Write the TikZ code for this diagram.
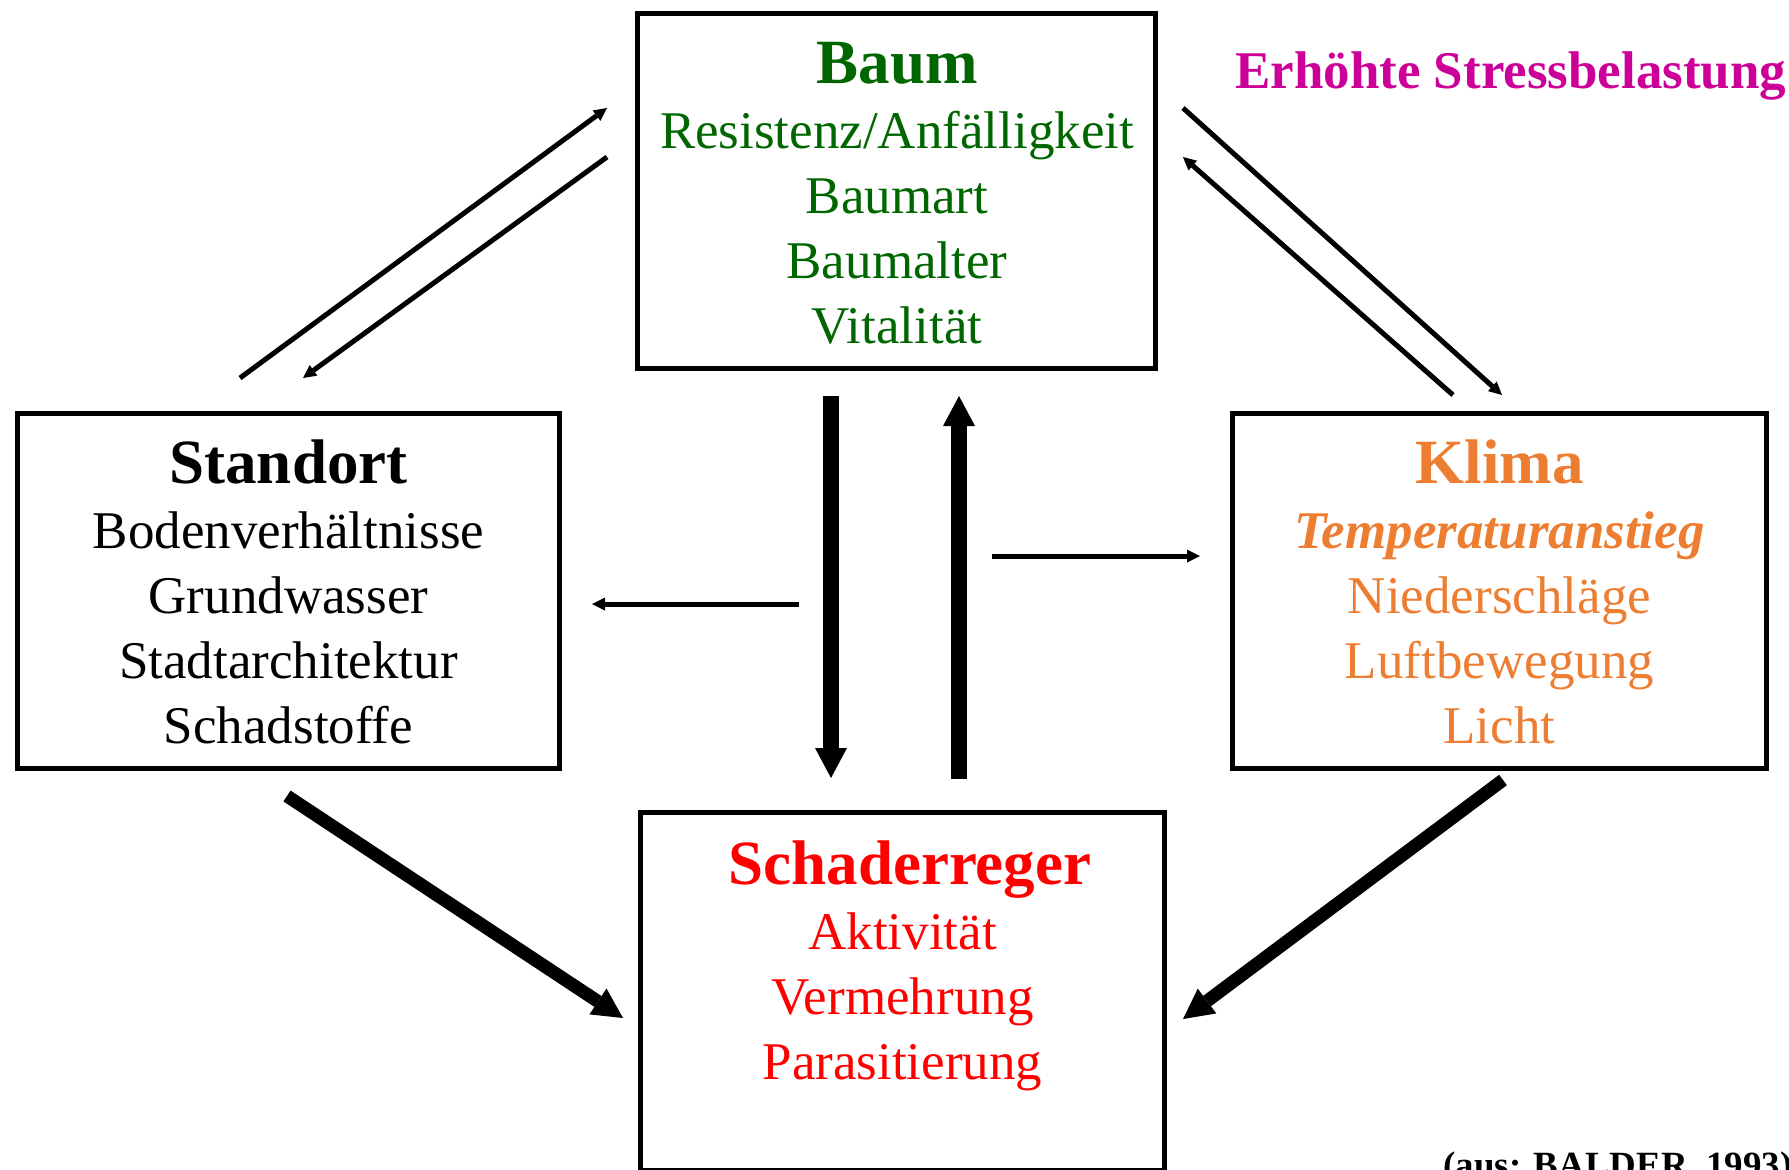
\documentclass[tikz,border=0pt]{standalone}
\usepackage{fontspec}
\setmainfont{Liberation Serif}
\usetikzlibrary{arrows.meta}

\definecolor{baumgreen}{RGB}{0,102,0}
\definecolor{klimaorange}{RGB}{237,125,49}
\definecolor{schadred}{RGB}{255,0,0}
\definecolor{stressmagenta}{RGB}{204,0,153}

\begin{document}
\begin{tikzpicture}[x=1pt, y=-1pt,
		box_style/.style={draw=black, line width=5pt, inner sep=0pt},
		head_style/.style={anchor=base, inner sep=0pt, font=\fontsize{63}{65}\selectfont\bfseries},
		item_style/.style={anchor=base, inner sep=0pt, font=\fontsize{53}{65}\selectfont},
		thin_arrow/.style={draw=black, line width=5pt, -{Triangle[length=13pt, width=13pt, line width=0pt]}},
		bold_arrow/.style={draw=black, line width=16pt, -{Triangle[length=30pt, width=32pt, line width=0pt]}},
		diag_arrow/.style={draw=black, line width=13pt, -{Triangle[length=30pt, width=31pt, line width=0pt]}}]

		\useasboundingbox (0,0) rectangle (1789,1170);
		\clip (0,0) rectangle (1789,1170);

		% boxes
		\node[box_style, minimum width=518pt, minimum height=355pt] (baum) at (896.5,191) {};
		\node[box_style, minimum width=542pt, minimum height=355pt] (standort) at (288.5,591) {};
		\node[box_style, minimum width=534pt, minimum height=355pt] (klima) at (1499.5,591) {};
		\node[box_style, minimum width=524pt, minimum height=358pt] (schad) at (902.5,991.5) {};

		% texts
		\node[head_style, text=baumgreen] (baum0) at (897,83) {Baum};
		\foreach \txt [count=\i] in {Resistenz/Anfälligkeit,Baumart,Baumalter,Vitalität}
			\node[item_style, text=baumgreen] (baum\i) at (897,{83+65*\i}) {\txt};

		\node[head_style] (standort0) at (288.5,483) {Standort};
		\foreach \txt [count=\i] in {Bodenverhältnisse,Grundwasser,Stadtarchitektur,Schadstoffe}
			\node[item_style] (standort\i) at (288.5,{483+65*\i}) {\txt};

		\node[head_style, text=klimaorange] (klima0) at (1499.5,483) {Klima};
		\foreach \txt [count=\i] in {{\bfseries\itshape Temperaturanstieg},Niederschläge,Luftbewegung,Licht}
			\node[item_style, text=klimaorange] (klima\i) at (1499.5,{483+65*\i}) {\txt};

		\node[head_style, text=schadred] (schad0) at (910,884) {Schaderreger};
		\foreach \txt [count=\i] in {Aktivität,Vermehrung,Parasitierung}
			\node[item_style, text=schadred] (schad\i) at (902.5,{884+65*\i}) {\txt};

		\node[anchor=base west, inner sep=0pt, text=stressmagenta, font=\fontsize{53}{60}\selectfont\bfseries] (stress) at (1235,88) {Erhöhte Stressbelastung};
		\node[anchor=base west, inner sep=0pt, font=\fontsize{37}{40}\selectfont\bfseries] (quelle) at (1443,1177) {(aus: BALDER, 1993)};

		% arrow ends
		\coordinate (sb_a) at (240,378);
		\coordinate (sb_b) at (607,108);
		\coordinate (bs_a) at (607,157);
		\coordinate (bs_b) at (303,378);
		\coordinate (bk_a) at (1183,108);
		\coordinate (bk_b) at (1502,395);
		\coordinate (kb_a) at (1453,395);
		\coordinate (kb_b) at (1183,157);
		\coordinate (down_a) at (831,396);
		\coordinate (down_b) at (831,778);
		\coordinate (up_a) at (959,779);
		\coordinate (up_b) at (959,396);
		\coordinate (left_a) at (799,604);
		\coordinate (left_b) at (592,604);
		\coordinate (right_a) at (992,556);
		\coordinate (right_b) at (1200,556);
		\coordinate (ss_a) at (287,796);
		\coordinate (ss_b) at (623,1018);
		\coordinate (ks_a) at (1503,780);
		\coordinate (ks_b) at (1183,1019);

		\draw[thin_arrow] (sb_a) -- (sb_b);
		\draw[thin_arrow] (bs_a) -- (bs_b);
		\draw[thin_arrow] (bk_a) -- (bk_b);
		\draw[thin_arrow] (kb_a) -- (kb_b);
		\draw[thin_arrow] (left_a) -- (left_b);
		\draw[thin_arrow] (right_a) -- (right_b);
		\draw[bold_arrow] (down_a) -- (down_b);
		\draw[bold_arrow] (up_a) -- (up_b);
		\draw[diag_arrow] (ss_a) -- (ss_b);
		\draw[diag_arrow] (ks_a) -- (ks_b);

\end{tikzpicture}
\end{document}
